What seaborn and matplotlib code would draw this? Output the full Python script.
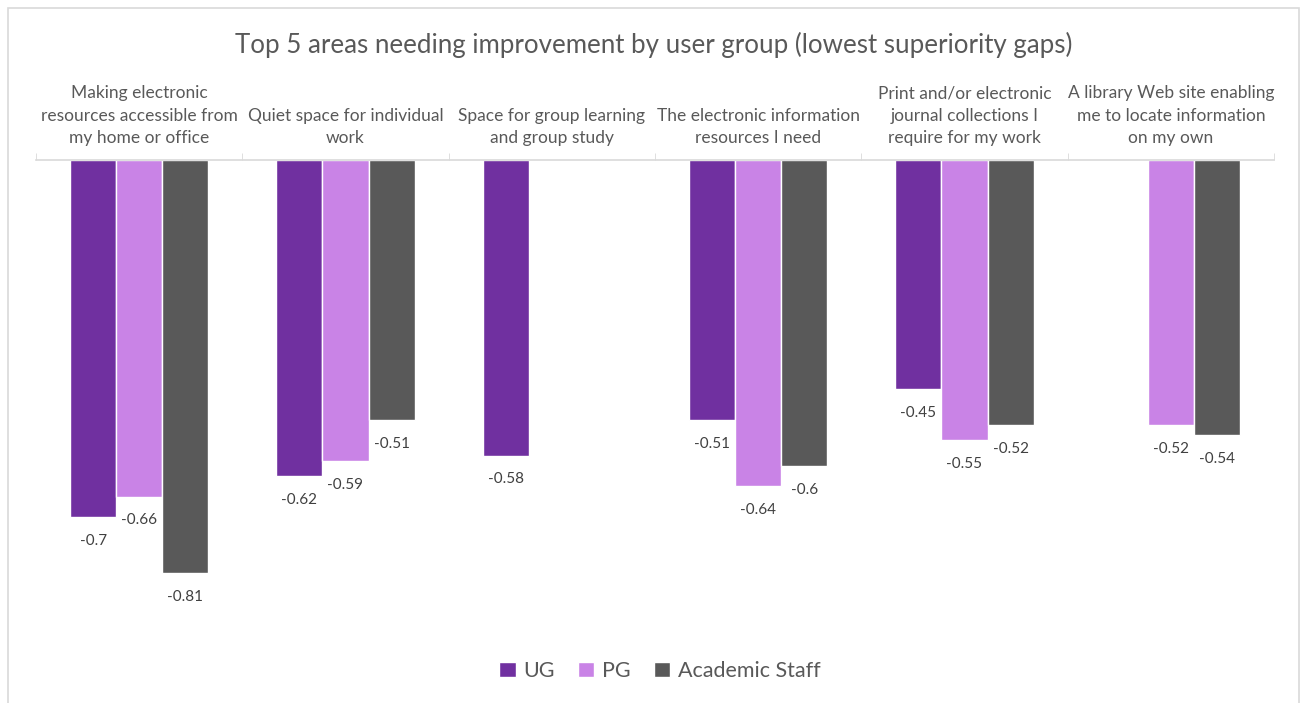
import numpy as np
import pandas as pd
import matplotlib
matplotlib.use("Agg")
import matplotlib.pyplot as plt
from matplotlib.patches import Rectangle
import seaborn as sns

categories = [
    "Making electronic\nresources accessible from\nmy home or office",
    "Quiet space for individual\nwork",
    "Space for group learning\nand group study",
    "The electronic information\nresources I need",
    "Print and/or electronic\njournal collections I\nrequire for my work",
    "A library Web site enabling\nme to locate information\non my own",
]
groups = ["UG", "PG", "Academic Staff"]
ug = [-0.70, -0.62, -0.58, -0.51, -0.45, np.nan]
pg = [-0.66, -0.59, np.nan, -0.64, -0.55, -0.52]
staff = [-0.81, -0.51, np.nan, -0.60, -0.52, -0.54]
colors = ["#7030A0", "#C983E6", "#595959"]

rows = []
for g, vals in zip(groups, [ug, pg, staff]):
    for c, v in zip(categories, vals):
        if not np.isnan(v):
            rows.append({"area": c, "group": g, "gap": v})
df = pd.DataFrame(rows)

sns.set_style("white")
plt.rcParams["font.family"] = ["Lato", "DejaVu Sans"]
text_col = "#595959"

fig = plt.figure(figsize=(13.07, 7.03), dpi=100)
fig.patches.append(Rectangle((8 / 1307, -0.02), 1291 / 1307, 1 - 8 / 703 + 0.02,
                             transform=fig.transFigure, fill=False,
                             edgecolor="#D9D9D9", linewidth=1.2))
ax = fig.add_axes([36 / 1307, 1 - 620 / 703, 1238 / 1307, 460 / 703])

sns.barplot(data=df, x="area", y="gap", hue="group", order=categories,
            hue_order=groups, palette=colors, width=0.67, errorbar=None,
            saturation=1, ax=ax, legend=True)

for cont in ax.containers:
    ax.bar_label(cont, fmt="{:g}", padding=12, fontsize=11, color="#404040")

ax.set_ylim(-0.902, 0)
ax.set_xlim(-0.5, len(categories) - 0.5)
ax.set_xlabel("")
ax.set_ylabel("")
ax.set_yticks([])
ax.xaxis.tick_top()
ax.set_xticks(range(len(categories)))
ax.set_xticklabels(categories, fontsize=12.5, color=text_col, linespacing=1.5)
ax.tick_params(axis="x", which="major", length=0, pad=10)
ax.set_xticks(np.arange(-0.5, len(categories), 1), minor=True)
ax.tick_params(axis="x", which="minor", length=5, color="#D9D9D9", top=True, bottom=False)
for s in ["left", "right", "bottom"]:
    ax.spines[s].set_visible(False)
ax.spines["top"].set_color("#D9D9D9")
ax.spines["top"].set_linewidth(1.2)

fig.text(0.5, 1 - 45 / 703, "Top 5 areas needing improvement by user group (lowest superiority gaps)",
         ha="center", va="center", fontsize=18.6, color=text_col)

leg = ax.legend(loc="center", bbox_to_anchor=(660 / 1307, 1 - 671 / 703),
                bbox_transform=fig.transFigure, ncol=3, frameon=False,
                fontsize=15.5, handlelength=0.75, handleheight=0.75,
                handletextpad=0.35, columnspacing=1.1)
for t in leg.get_texts():
    t.set_color(text_col)

fig.savefig("out.png", dpi=100, facecolor="white")
